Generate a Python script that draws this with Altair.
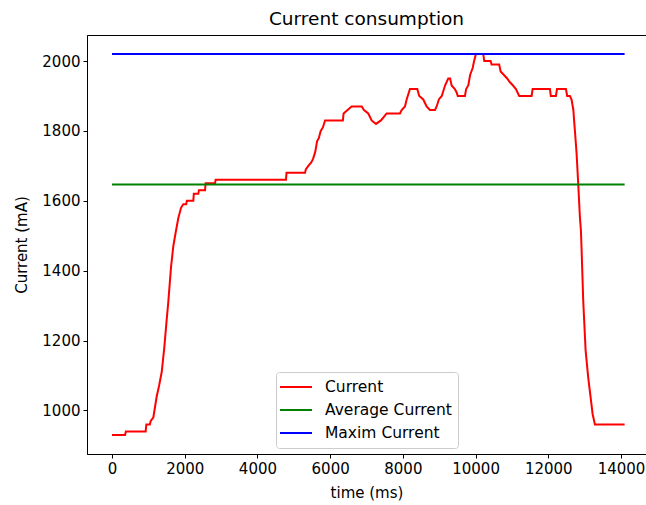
import altair as alt
import pandas as pd

# Sampled current draw over one run (time in ms, current in mA)
time_ms = [
    0, 360, 380, 925, 945, 1040, 1064, 1136, 1183, 1229, 1293, 1367, 1438,
    1504, 1548, 1623, 1686, 1752, 1823, 1898, 1961, 2040, 2060, 2236, 2250,
    2374, 2390, 2558, 2575, 2833, 2850, 4785, 4800, 5310, 5330, 5400, 5480,
    5530, 5590, 5640, 5690, 5740, 5800, 5860, 6350, 6370, 6480, 6590, 6870,
    6930, 7048, 7142, 7260, 7398, 7554, 7920, 7967, 8058, 8104, 8195, 8396,
    8451, 8561, 8654, 8745, 8883, 8930, 8990, 9070, 9160, 9248, 9300, 9342,
    9430, 9480, 9510, 9708, 9740, 9800, 9850, 9920, 9960, 10010, 10211,
    10240, 10414, 10440, 10650, 10690, 10780, 10870, 10940, 11030, 11110,
    11200, 11541, 11570, 12045, 12070, 12210, 12240, 12485, 12520, 12595,
    12640, 12690, 12710, 12733, 12779, 12823, 12870, 12898, 12917, 12961,
    13027, 13098, 13164, 13219, 13283, 14100,
]
current_ma = [
    930, 930, 940, 940, 960, 960, 970, 980, 1010, 1040, 1070, 1110, 1180,
    1260, 1310, 1410, 1470, 1510, 1550, 1580, 1590, 1590, 1600, 1600, 1620,
    1620, 1630, 1630, 1650, 1650, 1660, 1660, 1680, 1680, 1690, 1700, 1710,
    1720, 1740, 1770, 1780, 1800, 1810, 1830, 1830, 1850, 1860, 1870, 1870,
    1860, 1850, 1830, 1820, 1830, 1850, 1850, 1860, 1870, 1890, 1920, 1920,
    1900, 1890, 1870, 1860, 1860, 1870, 1890, 1900, 1930, 1950, 1950, 1930,
    1920, 1910, 1900, 1900, 1920, 1930, 1960, 1980, 2000, 2020, 2020,
    2000, 2000, 1990, 1990, 1970, 1960, 1950, 1940, 1930, 1920,
    1900, 1900, 1920, 1920, 1900, 1900, 1920, 1920, 1900, 1900,
    1890, 1860, 1830, 1800, 1735, 1650, 1553, 1515, 1458, 1315,
    1172, 1095, 1038, 990, 960, 960,
]

average_current = 1647
max_current = 2020

series_names = ["Current", "Average Current", "Maxim Current"]
series_colors = ["red", "green", "blue"]

x_ticks = [0, 2000, 4000, 6000, 8000, 10000, 12000, 14000]
y_ticks = [1000, 1200, 1400, 1600, 1800, 2000]

rows = [{"t": t, "v": v, "series": "Current", "k": 0} for t, v in zip(time_ms, current_ma)]
t_first, t_last = time_ms[0], time_ms[-1]
rows += [{"t": t, "v": average_current, "series": "Average Current", "k": 1} for t in (t_first, t_last)]
rows += [{"t": t, "v": max_current, "series": "Maxim Current", "k": 2} for t in (t_first, t_last)]
df = pd.DataFrame(rows)

font = "DejaVu Sans"

chart = (
    alt.Chart(df)
    .mark_line(strokeWidth=2)
    .encode(
        x=alt.X(
            "t:Q",
            title="time (ms)",
            scale=alt.Scale(domain=[-688, 14688], nice=False, zero=False),
            axis=alt.Axis(values=x_ticks, format="d"),
        ),
        y=alt.Y(
            "v:Q",
            title="Current (mA)",
            scale=alt.Scale(domain=[875.5, 2074.5], nice=False, zero=False),
            axis=alt.Axis(values=y_ticks, format="d"),
        ),
        color=alt.Color(
            "series:N",
            scale=alt.Scale(domain=series_names, range=series_colors),
            legend=alt.Legend(
                title=None,
                orient="none",
                legendX=189,
                legendY=337,
                # a short horizontal stroke, 32 px long at this size
                symbolType="M-2,0H2",
                symbolSize=256,
                symbolStrokeWidth=2,
                symbolOffset=5,
                labelFontSize=15.5,
                labelFont=font,
                labelOffset=20,
                padding=6,
                rowPadding=5,
                fillColor="white",
                strokeColor="#cccccc",
                cornerRadius=3,
            ),
        ),
        detail="series:N",
        order="k:Q",
    )
    .properties(
        width=559,
        height=419,
        title=alt.TitleParams(
            "Current consumption",
            font=font,
            fontSize=18.5,
            fontWeight="normal",
            color="black",
            offset=7,
        ),
        autosize=alt.AutoSizeParams(type="none"),
        padding={"left": 87, "top": 35, "right": 0, "bottom": 51},
    )
    .configure_view(stroke="black", strokeWidth=1)
    .configure_axis(
        grid=False,
        domainColor="black",
        tickColor="black",
        tickSize=4,
        labelColor="black",
        labelFont=font,
        labelFontSize=15,
        labelPadding=3,
        titleFont=font,
        titleFontSize=15,
        titleFontWeight="normal",
        titleColor="black",
    )
    .configure_axisY(titlePadding=12)
    .configure_axisX(titlePadding=9)
)

chart.save("out.html", embed_options={"renderer": "svg", "actions": False})
